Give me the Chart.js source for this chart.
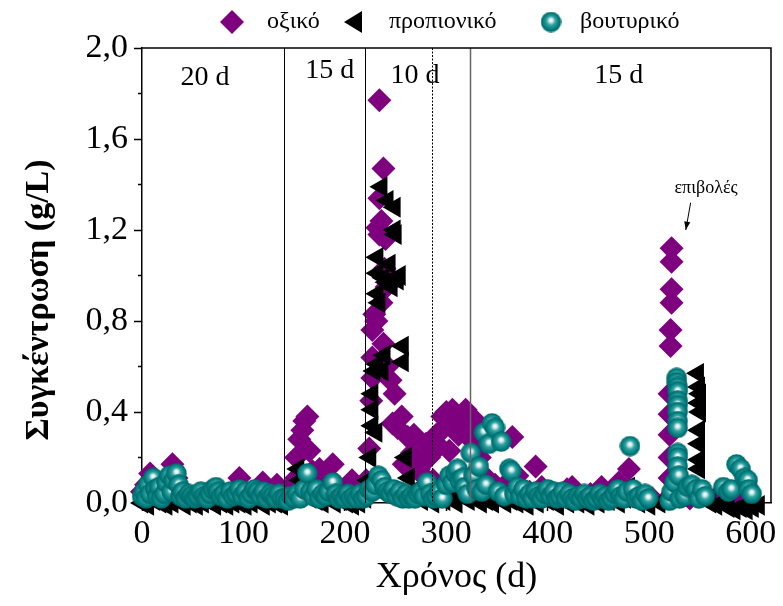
<!DOCTYPE html>
<html>
<head>
<meta charset="utf-8">
<script src="https://cdn.jsdelivr.net/npm/chart.js@4.4.1/dist/chart.umd.min.js"></script>
<style>
  html, body { margin: 0; padding: 0; background: #fff; }
  canvas { display: block; }
</style>
</head>
<body>
<canvas id="chart" width="783" height="606"></canvas>
<script>
// --- Data (days / g/L) ---
const aceticDays = [
  0, 4, 8, 12, 16, 20, 25, 30, 34, 38, 44, 50, 56, 62, 68, 74, 80, 86, 92, 96, 100, 106, 112, 119, 124, 129, 133, 137,
  143, 148, 152, 152, 155, 158, 160, 163, 165, 168, 171, 175, 180, 185, 188, 192, 196, 200, 207, 212, 216,
  221, 224, 226, 227, 227, 227, 229, 231, 232, 234, 234, 234, 236, 236, 238, 239, 240, 241, 238, 242, 245, 247, 249, 252, 256, 258, 262, 266, 268, 270, 273, 277, 280, 283, 287,
  290, 293, 296, 298, 300, 303, 306, 309, 312, 315, 319, 322, 326, 329, 330, 333, 337, 342, 348, 352, 358, 365, 370, 376,
  382, 388, 394, 400, 407, 413, 419, 424, 430, 436, 442, 448, 453, 458, 464, 470, 475, 480, 485, 490, 496, 503,
  518, 520, 520, 520, 520, 520, 521, 521, 522, 522, 522, 522, 525, 530, 540, 548, 565, 575, 585, 595
];
const aceticValues = [
  0.05, 0.08, 0.13, 0.06, 0.03, 0.05, 0.04, 0.17, 0.11, 0.06, 0.03, 0.02, 0.04, 0.03, 0.02, 0.05, 0.03, 0.04, 0.06, 0.11, 0.05, 0.03, 0.04, 0.09, 0.05, 0.03, 0.08, 0.04,
  0.05, 0.08, 0.20, 0.11, 0.28, 0.32, 0.36, 0.38, 0.23, 0.14, 0.09, 0.15, 0.12, 0.10, 0.17, 0.08, 0.06, 0.05, 0.10, 0.07, 0.04,
  0.10, 0.24, 0.45, 0.55, 0.64, 0.76, 0.83, 0.80, 1.21, 1.77, 1.34, 1.18, 1.24, 0.88, 1.47, 1.03, 1.16, 0.95, 0.70, 0.60, 0.54, 0.35, 0.48, 0.33, 0.38, 0.17, 0.29, 0.22, 0.30, 0.18, 0.15, 0.12, 0.26, 0.20, 0.10,
  0.30, 0.25, 0.38, 0.33, 0.40, 0.23, 0.41, 0.35, 0.30, 0.38, 0.41, 0.32, 0.27, 0.36, 0.14, 0.20, 0.12, 0.10, 0.08, 0.06, 0.08, 0.29, 0.12, 0.06,
  0.05, 0.16, 0.07, 0.05, 0.04, 0.03, 0.06, 0.07, 0.03, 0.02, 0.04, 0.03, 0.07, 0.03, 0.05, 0.09, 0.06, 0.15, 0.04, 0.02, 0.03, 0.02,
  0.02, 0.11, 0.20, 0.30, 0.39, 0.48, 0.69, 0.76, 0.88, 0.94, 1.06, 1.12, 0.05, 0.03, 0.02, 0.03, 0.02, 0.03, 0.02, 0.03
];

const propionicDays = [
  0, 6, 12, 18, 24, 30, 36, 42, 48, 54, 60, 66, 72, 78, 84, 90, 96, 102, 108, 114, 120, 126, 132, 138,
  144, 150, 154, 156, 160, 166, 172, 178, 184, 190, 196, 202, 208, 214,
  220, 223, 225, 227, 227, 227, 229, 231, 232, 232, 232, 232, 234, 236, 237, 238, 239, 241, 242, 244, 246, 249, 249, 250, 252, 254, 257, 257, 260, 263, 266, 270, 276, 282, 287,
  292, 298, 304, 310, 316, 322, 328, 334, 340, 346, 352, 358, 364, 370, 380, 390, 400, 410, 420, 430, 440, 450, 460, 470, 476, 480, 484, 490, 500, 510,
  520, 526, 532, 548, 549, 549, 549, 549, 549, 549, 550, 550, 552, 555, 560,
  566, 572, 578, 584, 590, 596, 602, 608
];
const propionicValues = [
  0.00, -0.01, 0.01, 0.00, -0.01, 0.00, 0.01, -0.01, 0.00, -0.01, 0.00, 0.01, -0.01, 0.00, -0.01, 0.00, 0.00, -0.01, 0.00, 0.01, -0.01, 0.00, 0.00, -0.01,
  0.02, 0.05, 0.15, 0.10, 0.04, 0.02, 0.01, 0.00, 0.02, 0.00, 0.01, 0.00, -0.01, 0.00,
  0.02, 0.10, 0.20, 0.34, 0.41, 0.48, 0.58, 0.31, 0.61, 0.92, 1.01, 1.08, 0.88, 1.39, 0.58, 0.99, 0.65, 0.97, 1.33, 1.05, 0.95, 1.30, 1.20, 1.18, 0.98, 1.00, 0.69, 0.62, 0.20, 0.11, 0.05, 0.03, 0.01, 0.02, 0.00,
  0.03, 0.01, 0.02, 0.00, 0.04, 0.01, 0.02, 0.00, 0.01, 0.00, 0.02, 0.00, 0.01, 0.00, -0.01, 0.00, 0.01, -0.01, 0.00, 0.00, -0.01, 0.00, 0.01, 0.00, 0.02, 0.07, 0.03, 0.00, -0.01, 0.00,
  0.02, 0.05, 0.03, 0.57, 0.51, 0.44, 0.32, 0.26, 0.19, 0.15, 0.40, 0.48, 0.05, 0.02, 0.00,
  -0.01, 0.00, -0.02, -0.03, -0.02, -0.03, -0.02, -0.01
];

const butyricDays = [
  0, 2, 4, 6, 8, 11, 13, 15, 17, 19, 22, 24, 27, 29, 31, 34, 36, 38, 40, 43, 46, 49, 52, 55, 58, 61, 64, 67, 70, 73,
  75, 78, 81, 84, 87, 90, 93, 96, 99, 102, 105, 108, 111, 114, 117, 120, 123, 126, 129, 132, 135, 138,
  141, 144, 147, 150, 153, 156, 160, 163, 166, 169, 172, 175, 178, 181, 184, 188, 191, 194, 197, 200, 203, 206, 209, 212, 215, 218,
  221, 224, 227, 230, 233, 236, 239, 242, 245, 248, 251, 254, 257, 260, 263, 266, 269, 272, 275, 278, 281, 284, 287,
  290, 293, 296, 300, 303, 306, 309, 311, 313, 316, 318, 321, 324, 327, 330, 332, 335, 337, 339, 342, 345, 348, 351, 354, 357, 362, 364, 367, 370,
  373, 376, 379, 382, 385, 388, 391, 394, 397, 400, 403, 406, 409, 412, 415, 418, 421, 424, 427, 430,
  433, 436, 439, 442, 445, 448, 451, 454, 457, 460, 463, 466, 469, 472, 475, 478, 481, 484, 487, 490, 493, 496, 499,
  520, 522, 525, 527, 527, 528, 528, 528, 528, 528, 528, 528, 528, 528, 528, 529, 530, 535, 538, 542, 546, 549, 552, 555,
  573, 578, 581, 586, 590, 594, 597, 598, 601
];
const butyricValues = [
  0.03, 0.05, 0.02, 0.08, 0.04, 0.11, 0.06, 0.03, 0.07, 0.02, 0.04, 0.09, 0.12, 0.05, 0.10, 0.13, 0.08, 0.03, 0.05, 0.02, 0.04, 0.03, 0.02, 0.03, 0.05, 0.03, 0.02, 0.04, 0.06, 0.07,
  0.05, 0.03, 0.04, 0.02, 0.05, 0.03, 0.04, 0.06, 0.03, 0.05, 0.02, 0.04, 0.06, 0.05, 0.03, 0.05, 0.02, 0.04, 0.03, 0.02, 0.04, 0.02,
  0.02, 0.01, 0.03, 0.02, 0.04, 0.02, 0.06, 0.13, 0.05, 0.03, 0.06, 0.02, 0.04, 0.03, 0.05, 0.09, 0.04, 0.02, 0.03, 0.02, 0.04, 0.02, 0.03, 0.02, 0.04, 0.02,
  0.03, 0.06, 0.05, 0.08, 0.12, 0.10, 0.07, 0.05, 0.04, 0.06, 0.03, 0.05, 0.02, 0.04, 0.02, 0.03, 0.02, 0.04, 0.05, 0.03, 0.09, 0.04, 0.02,
  0.03, 0.05, 0.02, 0.08, 0.12, 0.09, 0.13, 0.15, 0.10, 0.11, 0.07, 0.04, 0.22, 0.12, 0.06, 0.16, 0.05, 0.31, 0.08, 0.26, 0.35, 0.33, 0.05, 0.27, 0.03, 0.15, 0.14, 0.04, 0.07,
  0.03, 0.06, 0.02, 0.04, 0.02, 0.05, 0.03, 0.02, 0.04, 0.06, 0.03, 0.05, 0.02, 0.03, 0.05, 0.02, 0.04, 0.02, 0.01, 0.03,
  0.02, 0.04, 0.02, 0.03, 0.01, 0.02, 0.04, 0.02, 0.03, 0.01, 0.02, 0.04, 0.06, 0.03, 0.02, 0.05, 0.25, 0.06, 0.02, 0.03, 0.01, 0.04, 0.02,
  0.01, 0.05, 0.09, 0.55, 0.53, 0.51, 0.49, 0.45, 0.43, 0.40, 0.36, 0.33, 0.22, 0.20, 0.16, 0.12, 0.02, 0.03, 0.07, 0.08, 0.06, 0.02, 0.06, 0.03,
  0.07, 0.05, 0.06, 0.17, 0.15, 0.11, 0.10, 0.06, 0.04
];

const seriesNames = ['οξικό', 'προπιονικό', 'βουτυρικό'];
const xTicks = [0, 100, 200, 300, 400, 500, 600];
const yTicks = [0, 0.4, 0.8, 1.2, 1.6, 2.0];
const yMinorTicks = [0.2, 0.6, 1.0, 1.4, 1.8];
const yTitle = 'Συγκέντρωση (g/L)';

// HRT periods: boundaries (d) and labels
const periodBounds = [139.5, 220, 285.7, 323];
const periodLabels = ['20 d', '15 d', '10 d', '15 d'];
const periodLabelDays = [62, 185, 269, 470];
const periodLabelLevels = [1.87, 1.90, 1.88, 1.88];

const noteText = 'επιβολές';

const SERIF = "'Liberation Serif', 'DejaVu Serif', serif";

const zip = (xs, ys) => xs.map((x, i) => ({ x: x, y: ys[i] }));

// --- teal sphere marker ---
function makeSphere(d) {
  const c = document.createElement('canvas');
  c.width = d; c.height = d;
  const g = c.getContext('2d');
  const r = d / 2;
  const grad = g.createRadialGradient(r, r * 0.8, 0, r, r, r);
  grad.addColorStop(0, '#ffffff');
  grad.addColorStop(0.18, '#d6eeee');
  grad.addColorStop(0.42, '#35a2a2');
  grad.addColorStop(0.75, '#008080');
  grad.addColorStop(1, '#006060');
  g.fillStyle = grad;
  g.beginPath();
  g.arc(r, r, r - 0.3, 0, Math.PI * 2);
  g.fill();
  return c;
}
const sphere = makeSphere(21);

// --- extras: frame, period lines, labels, note, legend, y title ---
const extras = {
  id: 'extras',
  afterDatasetsDraw(chart) {
    const { ctx, chartArea: a, scales: { x, y } } = chart;
    ctx.save();

    // period boundaries
    periodBounds.forEach((d, i) => {
      const px = Math.round(x.getPixelForValue(d)) + 0.5;
      ctx.beginPath();
      ctx.lineWidth = i === 3 ? 1.5 : 1;
      ctx.strokeStyle = i === 3 ? '#666' : '#000';
      ctx.setLineDash(i === 2 ? [2, 1.5] : []);
      ctx.moveTo(px, a.top);
      ctx.lineTo(px, a.bottom);
      ctx.stroke();
    });
    ctx.setLineDash([]);

    // frame (top and right)
    ctx.strokeStyle = '#000';
    ctx.lineWidth = 1.5;
    ctx.beginPath();
    ctx.moveTo(a.left, a.top);
    ctx.lineTo(a.right, a.top);
    ctx.lineTo(a.right, a.bottom);
    ctx.stroke();

    // minor y ticks
    yMinorTicks.forEach(v => {
      const py = y.getPixelForValue(v);
      ctx.beginPath();
      ctx.moveTo(a.left - 4, py);
      ctx.lineTo(a.left, py);
      ctx.stroke();
    });

    // period labels
    ctx.fillStyle = '#000';
    ctx.font = '28px ' + SERIF;
    ctx.textAlign = 'center';
    ctx.textBaseline = 'middle';
    periodLabels.forEach((t, i) => {
      ctx.fillText(t, x.getPixelForValue(periodLabelDays[i]), y.getPixelForValue(periodLabelLevels[i]));
    });

    // note with arrow
    ctx.font = '18px ' + SERIF;
    ctx.fillText(noteText, x.getPixelForValue(556), y.getPixelForValue(1.385));
    const x0 = x.getPixelForValue(540.8), y0 = y.getPixelForValue(1.32);
    const x1 = x.getPixelForValue(536), y1 = y.getPixelForValue(1.20);
    ctx.lineWidth = 1;
    ctx.beginPath();
    ctx.moveTo(x0, y0);
    ctx.lineTo(x1, y1);
    ctx.stroke();
    const ang = Math.atan2(y1 - y0, x1 - x0);
    ctx.beginPath();
    ctx.moveTo(x1, y1);
    ctx.lineTo(x1 - 9 * Math.cos(ang - 0.35), y1 - 9 * Math.sin(ang - 0.35));
    ctx.lineTo(x1 - 9 * Math.cos(ang + 0.35), y1 - 9 * Math.sin(ang + 0.35));
    ctx.closePath();
    ctx.fill();

    // y axis title
    ctx.save();
    ctx.translate(39, 300);
    ctx.rotate(-Math.PI / 2);
    ctx.font = 'bold 34px ' + SERIF;
    ctx.textAlign = 'center';
    ctx.fillText(yTitle, 0, 0);
    ctx.restore();

    // legend
    const ly = 22;
    ctx.font = '24px ' + SERIF;
    ctx.textAlign = 'left';
    ctx.fillStyle = '#7f007f';
    ctx.beginPath();
    ctx.moveTo(232 - 12, ly); ctx.lineTo(232, ly - 12); ctx.lineTo(232 + 12, ly); ctx.lineTo(232, ly + 12);
    ctx.closePath(); ctx.fill();
    ctx.fillStyle = '#000';
    ctx.beginPath();
    ctx.moveTo(344, ly); ctx.lineTo(362, ly - 11); ctx.lineTo(362, ly + 11);
    ctx.closePath(); ctx.fill();
    ctx.drawImage(sphere, 551 - 10.5, ly - 10.5);
    ctx.fillStyle = '#000';
    ctx.fillText(seriesNames[0], 267, ly);
    ctx.fillText(seriesNames[1], 389, ly);
    ctx.fillText(seriesNames[2], 580, ly);

    ctx.restore();
  }
};

new Chart(document.getElementById('chart'), {
  type: 'scatter',
  data: {
    datasets: [
      {
        label: seriesNames[2],
        data: zip(butyricDays, butyricValues),
        pointStyle: sphere,
        pointRadius: 10,
        backgroundColor: '#008080',
        borderWidth: 0,
        clip: false
      },
      {
        label: seriesNames[1],
        data: zip(propionicDays, propionicValues),
        pointStyle: 'triangle',
        rotation: -90,
        pointRadius: 12,
        backgroundColor: '#000',
        borderWidth: 0,
        pointBorderWidth: 0,
        clip: false
      },
      {
        label: seriesNames[0],
        data: zip(aceticDays, aceticValues),
        pointStyle: 'rectRot',
        pointRadius: 12,
        backgroundColor: '#7f007f',
        borderWidth: 0,
        pointBorderWidth: 0,
        clip: false
      }
    ]
  },
  options: {
    responsive: false,
    animation: false,
    devicePixelRatio: 1,
    layout: { padding: { top: 48, right: 10, left: 0, bottom: 0 } },
    plugins: {
      legend: { display: false },
      tooltip: { enabled: false }
    },
    scales: {
      x: {
        type: 'linear',
        min: 0,
        max: 620,
        afterBuildTicks: s => { s.ticks = xTicks.map(v => ({ value: v })); },
        afterFit: s => { s.height = 103; },
        border: { color: '#000', width: 1.5 },
        grid: { drawOnChartArea: false, tickLength: 8, tickColor: '#000', tickWidth: 1.5 },
        ticks: { color: '#000', padding: 3, maxRotation: 0, font: { family: SERIF, size: 34 } },
        title: {
          display: true,
          text: 'Χρόνος (d)',
          color: '#000',
          font: { family: SERIF, size: 36 },
          padding: { top: 0, bottom: 7 }
        }
      },
      y: {
        type: 'linear',
        min: 0,
        max: 2.0,
        afterBuildTicks: s => { s.ticks = yTicks.map(v => ({ value: v })); },
        afterFit: s => { s.width = 142; },
        border: { color: '#000', width: 1.5 },
        grid: { drawOnChartArea: false, tickLength: 8, tickColor: '#000', tickWidth: 1.5 },
        ticks: {
          color: '#000',
          padding: 6,
          font: { family: SERIF, size: 34 },
          callback: v => v.toFixed(1).replace('.', ',')
        },
        title: { display: false }
      }
    }
  },
  plugins: [extras]
});
</script>
</body>
</html>
